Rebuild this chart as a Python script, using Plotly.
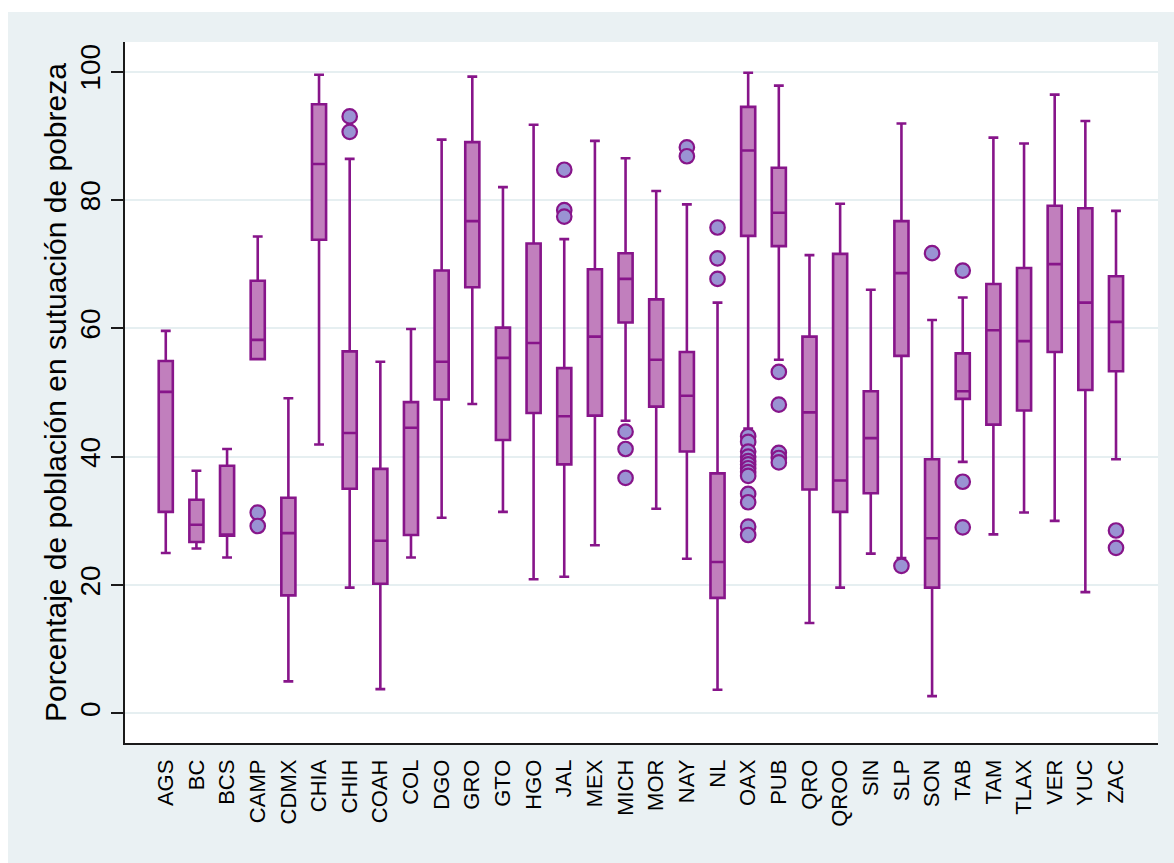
import plotly.graph_objects as go

# Poverty share (%) by state: box-plot summary statistics
states = ["AGS", "BC", "BCS", "CAMP", "CDMX", "CHIA", "CHIH", "COAH", "COL", "DGO",
          "GRO", "GTO", "HGO", "JAL", "MEX", "MICH", "MOR", "NAY", "NL", "OAX",
          "PUB", "QRO", "QROO", "SIN", "SLP", "SON", "TAB", "TAM", "TLAX", "VER",
          "YUC", "ZAC"]

lower_adj = [25.0, 25.7, 24.3, 55.2, 5.0, 41.9, 19.6, 3.8, 24.3, 30.5,
             48.2, 31.4, 20.9, 21.3, 26.2, 45.6, 31.9, 24.1, 3.7, 44.4,
             55.1, 14.1, 19.6, 24.9, 24.2, 2.7, 39.2, 27.9, 31.3, 30.0,
             18.9, 39.6]
p25 = [31.4, 26.7, 27.7, 55.2, 18.4, 73.8, 35.0, 20.2, 27.8, 48.9,
       66.4, 42.6, 46.8, 38.8, 46.4, 60.9, 47.8, 40.8, 18.0, 74.4,
       72.8, 34.9, 31.4, 34.3, 55.7, 19.6, 49.0, 45.0, 47.2, 56.3,
       50.4, 53.3]
p50 = [50.1, 29.4, 27.7, 58.2, 28.1, 85.6, 43.7, 26.9, 44.5, 54.8,
       76.7, 55.4, 57.7, 46.3, 58.7, 67.7, 55.1, 49.5, 23.6, 87.7,
       78.0, 46.9, 36.3, 42.9, 68.6, 27.3, 50.2, 59.7, 58.0, 70.0,
       64.0, 61.0]
p75 = [54.9, 33.3, 38.6, 67.4, 33.6, 94.9, 56.4, 38.1, 48.5, 69.0,
       89.0, 60.1, 73.2, 53.8, 69.2, 71.7, 64.5, 56.3, 37.4, 94.5,
       85.0, 58.7, 71.6, 50.2, 76.7, 39.6, 56.1, 66.9, 69.4, 79.1,
       78.7, 68.1]
upper_adj = [59.6, 37.8, 41.2, 74.3, 49.1, 99.5, 86.4, 54.8, 59.9, 89.4,
             99.2, 82.0, 91.7, 73.9, 89.2, 86.5, 81.4, 79.3, 64.0, 99.8,
             97.8, 71.4, 79.4, 66.0, 91.9, 61.3, 64.8, 89.7, 88.8, 96.4,
             92.3, 78.3]

# Outside values per state
outliers = {
    "CAMP": [31.3, 29.2],
    "CHIH": [93.0, 90.6],
    "JAL": [84.7, 78.4, 77.4],
    "MICH": [43.9, 41.2, 36.7],
    "NAY": [88.2, 86.8],
    "NL": [75.7, 70.9, 67.7],
    "OAX": [43.2, 42.3, 40.8, 40.0, 39.3, 38.8, 38.2, 37.6, 37.0, 34.2, 32.9, 29.1, 27.8],
    "PUB": [53.2, 48.1, 40.6, 39.8, 39.1],
    "SLP": [23.0],
    "SON": [71.7],
    "TAB": [69.0, 36.1, 29.0],
    "ZAC": [28.5, 25.8],
}

y_ticks = [0, 20, 40, 60, 80, 100]

LINE = "#87158A"
FILL = "#C17FBD"
DOT = "#9A93D3"
BG = "#EAF1F3"
FONT = "Liberation Sans, Arial, sans-serif"

W, H = 1174, 863
ML, MR, MT, MB = 125, 16, 42, 120

fig = go.Figure()

fig.add_trace(go.Box(
    x=states,
    q1=p25, median=p50, q3=p75,
    lowerfence=lower_adj, upperfence=upper_adj,
    width=0.46,
    whiskerwidth=0.7,
    fillcolor=FILL,
    line=dict(color=LINE, width=2.6),
    boxpoints=False,
    hoverinfo="skip",
    showlegend=False,
))

ox, oy = [], []
for s, vals in outliers.items():
    for v in vals:
        ox.append(s)
        oy.append(v)

fig.add_trace(go.Scatter(
    x=ox, y=oy, mode="markers",
    marker=dict(symbol="circle", size=14.5, color=DOT, line=dict(color=LINE, width=2.2)),
    hoverinfo="skip", showlegend=False,
))

# light panel behind the whole graph, white plot region on top of it
pw = W - ML - MR
ph = H - MT - MB
fig.add_shape(type="rect", xref="paper", yref="paper", layer="below",
              x0=(8 - ML) / pw, x1=(W + 2 - ML) / pw,
              y0=-(H + 2 - MT - ph) / ph, y1=(MT + ph - 12) / ph,
              fillcolor=BG, line=dict(width=0))
fig.add_shape(type="rect", xref="paper", yref="paper", layer="below",
              x0=0, x1=1, y0=0, y1=1,
              fillcolor="white", line=dict(width=0))

fig.update_layout(
    width=W, height=H,
    margin=dict(l=ML, r=MR, t=MT, b=MB, pad=0),
    paper_bgcolor="white",
    plot_bgcolor="white",
    font=dict(family=FONT, color="black"),
    xaxis=dict(
        type="category",
        categoryorder="array", categoryarray=states,
        range=[-1.33, 32.37],
        tickangle=-90,
        tickfont=dict(size=22, family=FONT, color="black"),
        ticks="",
        ticklabelstandoff=6,
        showgrid=False, zeroline=False,
        showline=True, linecolor="#1a1a1a", linewidth=1.6,
    ),
    yaxis=dict(
        range=[-4.6, 104.6],
        tickvals=y_ticks,
        ticktext=[str(t) for t in y_ticks],
        tickangle=-90,
        tickfont=dict(size=28, family=FONT, color="black"),
        ticks="outside", ticklen=12, tickwidth=1.6, tickcolor="#1a1a1a",
        showgrid=True, gridcolor="#E6EFF1", gridwidth=2,
        zeroline=False,
        showline=True, linecolor="#1a1a1a", linewidth=1.6,
        title=dict(text="Porcentaje de población en sutuación de pobreza",
                   font=dict(size=30, family=FONT, color="black"),
                   standoff=0),
    ),
)

fig.write_html("out.html")
